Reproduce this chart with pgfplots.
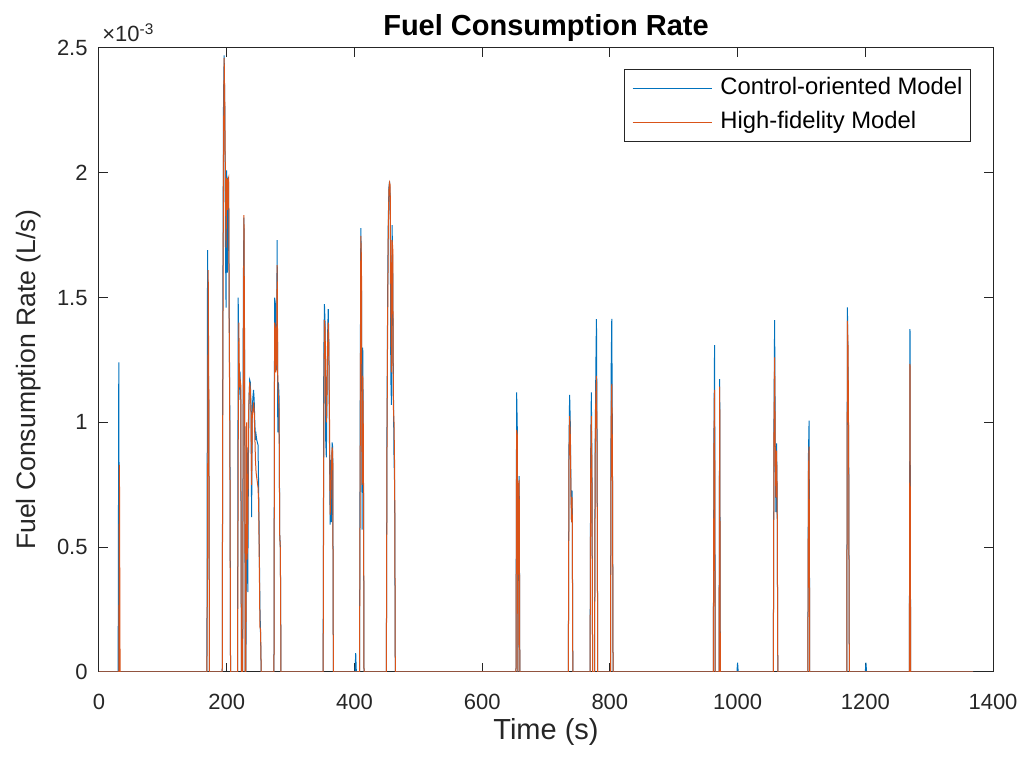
\documentclass[border=0pt]{standalone}
\usepackage{fontspec}
\setmainfont{Liberation Sans}
\usepackage{pgfplots}
\pgfplotsset{compat=1.18}
\usepackage{pgfplotstable}
\usetikzlibrary{calc}

\definecolor{ctrlblue}{rgb}{0,0.447,0.741}
\definecolor{hifired}{rgb}{0.85,0.325,0.098}
\definecolor{axgray}{rgb}{0.15,0.15,0.15}

% Control-oriented model: time (s), fuel rate (L/s)
\pgfplotstableread{
t v
0 0
30 0
31 1.24e-3
32 0
169 0
170 1.69e-3
171 1.30e-3
172 1.06e-3
173 0
193 0
194 1.48e-3
195 2.29e-3
196 2.47e-3
197 2.25e-3
198 1.73e-3
199 1.46e-3
200 2.01e-3
201 1.60e-3
202 1.98e-3
203 1.96e-3
204 1.40e-3
205 0.96e-3
206 0
217 0
218 1.50e-3
219 1.09e-3
220 1.18e-3
221 1.19e-3
222 1.09e-3
223 0
225 0
226 1.54e-3
227 1.82e-3
228 1.20e-3
229 0
230 0
231 0.55e-3
232 0.90e-3
233 0.32e-3
234 0.85e-3
235 1.10e-3
236 1.17e-3
237 1.16e-3
238 1.06e-3
239 0.62e-3
240 1.05e-3
241 1.10e-3
242 1.13e-3
243 1.09e-3
244 1.00e-3
245 0.93e-3
246 0.95e-3
247 0.93e-3
248 0.92e-3
249 0.91e-3
250 0.74e-3
251 0.50e-3
252 0.26e-3
253 0.15e-3
254 0
274 0
275 1.50e-3
276 1.48e-3
277 1.21e-3
278 1.21e-3
279 1.73e-3
280 0.96e-3
281 1.16e-3
282 1.10e-3
283 0.55e-3
284 0.50e-3
285 0
351 0
352 1.24e-3
353 1.474e-3
354 1.40e-3
355 0.93e-3
356 0.86e-3
357 1.10e-3
358 1.35e-3
359 1.454e-3
360 1.30e-3
361 0.90e-3
362 0.59e-3
363 0.85e-3
364 0.60e-3
365 0.92e-3
366 0.90e-3
367 0
401 0
402 0.075e-3
403 0
408 0
409 1.00e-3
410 1.778e-3
411 1.60e-3
412 0.57e-3
413 1.30e-3
414 0.90e-3
415 0
450 0
451 0.98e-3
452 1.50e-3
453 1.80e-3
454 1.94e-3
455 1.965e-3
456 1.90e-3
457 1.18e-3
458 1.07e-3
459 1.79e-3
460 1.60e-3
461 1.14e-3
462 0.86e-3
463 0.74e-3
464 0
653 0
654 1.12e-3
655 0.98e-3
656 0
657 0.68e-3
658 0.785e-3
659 0
735 0
736 0.91e-3
737 1.11e-3
738 1.00e-3
739 0.75e-3
740 0.60e-3
741 0.727e-3
742 0
769 0
770 0.88e-3
771 1.12e-3
772 0.80e-3
773 0
776 0
777 0.90e-3
778 1.20e-3
779 1.414e-3
780 0.90e-3
781 0
801 0
802 1.20e-3
803 1.415e-3
804 0.90e-3
805 0
962 0
963 0.95e-3
964 1.31e-3
965 0
971 0
972 1.173e-3
973 0
999 0
1000 0.037e-3
1001 0
1056 0
1057 1.00e-3
1058 1.41e-3
1059 0.90e-3
1060 0.64e-3
1061 0.916e-3
1062 0.70e-3
1063 0
1110 0
1111 0.87e-3
1112 1.007e-3
1113 0
1171 0
1172 1.461e-3
1173 1.20e-3
1174 0.90e-3
1175 0
1200 0
1201 0.037e-3
1202 0
1269 0
1270 1.374e-3
1271 0
1369 0
}\ctrldata

% High-fidelity model: time (s), fuel rate (L/s)
\pgfplotstableread{
t v
0 0
31 0
32 0.83e-3
33 0
169 0
170 0.50e-3
171 1.61e-3
172 1.06e-3
173 0
193 0
194 1.30e-3
195 2.10e-3
196 2.46e-3
197 2.27e-3
198 1.95e-3
199 1.70e-3
200 1.98e-3
201 1.85e-3
202 1.97e-3
203 1.98e-3
204 1.34e-3
205 0.90e-3
206 0
217 0
218 0.90e-3
219 1.40e-3
220 1.14e-3
221 1.17e-3
222 1.15e-3
223 0
225 0
226 1.20e-3
227 1.83e-3
228 1.30e-3
229 0
230 0
231 1.00e-3
232 0.45e-3
233 0.60e-3
234 1.00e-3
235 1.10e-3
236 1.16e-3
237 1.13e-3
238 1.05e-3
239 0.75e-3
240 1.02e-3
241 1.05e-3
242 1.08e-3
243 1.05e-3
244 0.95e-3
245 0.85e-3
246 0.80e-3
247 0.78e-3
248 0.76e-3
249 0.74e-3
250 0.68e-3
251 0.45e-3
252 0.18e-3
253 0.17e-3
254 0
274 0
275 1.40e-3
276 1.38e-3
277 1.20e-3
278 1.25e-3
279 1.63e-3
280 1.15e-3
281 1.10e-3
282 1.05e-3
283 0.55e-3
284 0.49e-3
285 0
351 0
352 0.90e-3
353 1.41e-3
354 1.38e-3
355 1.20e-3
356 1.00e-3
357 1.10e-3
358 1.30e-3
359 1.40e-3
360 1.30e-3
361 1.00e-3
362 0.63e-3
363 0.70e-3
364 0.80e-3
365 0.90e-3
366 0.88e-3
367 0
408 0
409 0.80e-3
410 1.747e-3
411 1.65e-3
412 0.75e-3
413 1.186e-3
414 0.95e-3
415 0
450 0
451 0.90e-3
452 1.40e-3
453 1.75e-3
454 1.93e-3
455 1.96e-3
456 1.95e-3
457 1.50e-3
458 1.20e-3
459 1.73e-3
460 1.70e-3
461 1.06e-3
462 1.00e-3
463 0.80e-3
464 0
653 0
654 0.97e-3
655 0.95e-3
656 0
657 0.75e-3
658 0.77e-3
659 0
735 0
736 0.85e-3
737 1.025e-3
738 0.95e-3
739 0.72e-3
740 0.60e-3
741 0.70e-3
742 0
769 0
770 0.80e-3
771 1.025e-3
772 0.78e-3
773 0
776 0
777 0.85e-3
778 1.10e-3
779 1.186e-3
780 0.88e-3
781 0
801 0
802 1.00e-3
803 1.154e-3
804 0.88e-3
805 0
962 0
963 0.90e-3
964 1.13e-3
965 0
971 0
972 1.143e-3
973 0
1056 0
1057 0.95e-3
1058 1.26e-3
1059 0.90e-3
1060 0.70e-3
1061 0.887e-3
1062 0.72e-3
1063 0
1110 0
1111 0.80e-3
1112 0.903e-3
1113 0
1171 0
1172 1.407e-3
1173 1.30e-3
1174 0.87e-3
1175 0
1269 0
1270 1.234e-3
1271 0
1369 0
}\hifidata

\begin{document}
\begin{tikzpicture}
\begin{axis}[
  width=447pt, height=312pt, scale only axis,
  xmin=0, xmax=1400, ymin=0, ymax=0.0025,
  xtick={0,200,...,1400},
  ytick={0,0.0005,0.001,0.0015,0.002,0.0025},
  scaled x ticks=false,
  scaled y ticks=base 10:3,
  ytick scale label code/.code={\texttimes10\textsuperscript{#1}},
  every y tick scale label/.style={at={(rel axis cs:0,1)}, anchor=base west,
    xshift=7pt, yshift=3pt, inner sep=0pt,
    font=\fontsize{11}{13}\selectfont, text=axgray},
  /pgf/number format/assume math mode=true,
  /pgf/number format/1000 sep={},
  tick align=inside, tick pos=both,
  major tick length=4.5pt,
  tick style={axgray, line width=0.5pt},
  axis line style={axgray, line width=0.5pt},
  ticklabel style={font=\fontsize{11}{13}\selectfont, text=axgray, inner sep=0pt},
  xticklabel style={anchor=base, yshift=-19pt},
  yticklabel style={anchor=east, xshift=-5.5pt},
  title={Fuel Consumption Rate},
  every axis title/.style={at={(axis description cs:0.5,1.0208)}, anchor=base,
    font=\fontsize{14.5}{17}\selectfont\bfseries, text=black, inner sep=0pt},
  xlabel={Time (s)},
  every axis x label/.style={at={(axis description cs:0.5,-0.109)}, anchor=base,
    font=\fontsize{14.5}{17}\selectfont, text=axgray, inner sep=0pt},
  ylabel={Fuel Consumption Rate (L/s)},
  every axis y label/.style={at={(axis description cs:-0.0705,0.468)}, rotate=90,
    anchor=base, font=\fontsize{13.3}{16}\selectfont, text=axgray, inner sep=0pt},
  legend cell align=left,
  legend image code/.code={\draw[#1, line width=0.5pt] (0pt,0pt) -- (39.6pt,0pt); \path (43.6pt,0pt);},
  legend style={at={(0.9754,0.966)}, anchor=north east, draw=axgray,
    line width=0.5pt, fill=white, font=\fontsize{11.9}{14}\selectfont, text=black,
    inner xsep=4pt, inner ysep=3.5pt, row sep=5pt,
    nodes={inner sep=0pt, text height=9pt, text depth=3pt}},
]
\addplot[ctrlblue, line width=0.5pt] table[x=t, y=v] {\ctrldata};
\addplot[hifired, line width=0.5pt] table[x=t, y=v] {\hifidata};
\legend{Control-oriented Model, High-fidelity Model}
\end{axis}
\pgfresetboundingbox
\path ($(current axis.south west)+(-49.5pt,-44.5pt)$) rectangle ($(current axis.north east)+(17pt,24pt)$);
\end{tikzpicture}
\end{document}
